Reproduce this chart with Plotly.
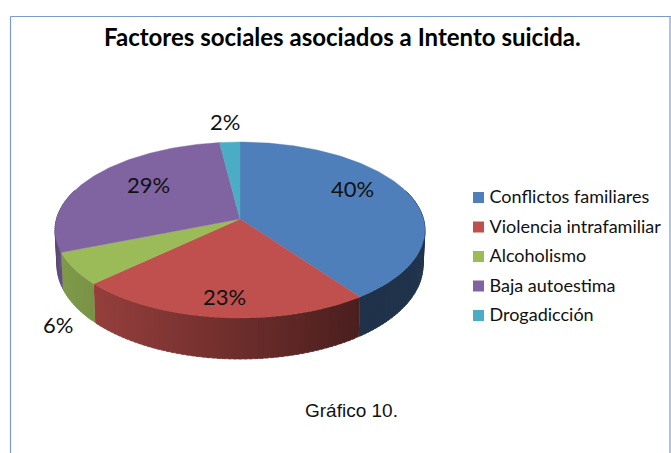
import numpy as np
import plotly.graph_objects as go

# --- data ---
categories = ["Conflictos familiares", "Violencia intrafamiliar", "Alcoholismo", "Baja autoestima", "Drogadicción"]
shares = [40, 23, 6, 29, 2]
title_text = "Factores sociales asociados a Intento suicida."
caption_text = "Gráfico 10."

# --- style ---
colors = ["#4f7fbb", "#bf504d", "#9bbb59", "#8064a2", "#4bacc6"]
label_xy = [(352, 188), (224, 296), (58, 324), (148, 184), (225, 121)]
CX, CY, RX, RY, PERSP = 240.0, 219.0, 183.5, 86.6, 0.125
W, H = 671, 453


def project(deg, r=1.0):
    t = np.radians(deg)
    u, v = r * np.sin(t), -r * np.cos(t)
    w = 1 - PERSP * v
    return CX + RX * u / w, CY + RY * v / w, v


def bottom(deg):
    x, y, v = project(deg)
    return CX + (x - CX) * 0.99, y + 34 + 7 * v


def shade(hex_color, f):
    rgb = [int(hex_color[i:i + 2], 16) for i in (1, 3, 5)]
    return "rgb({},{},{})".format(*[int(round(c * f)) for c in rgb])


fig = go.Figure()
edges = np.concatenate([[0], np.cumsum(shares)]) * 3.6

# side walls
STEP = 1.5
for i, col in enumerate(colors):
    a0, a1 = max(edges[i], 70), min(edges[i + 1], 290)
    if a1 <= a0:
        continue
    n = max(1, int(np.ceil((a1 - a0) / STEP)))
    grid = np.linspace(a0, a1, n + 1)
    for j in range(n):
        a, b = grid[j], min(grid[j + 1] + STEP * 0.6, a1)
        seg = np.linspace(a, b, 4)
        tx, ty, _ = project(seg)
        bx, by = bottom(seg)
        mx = project((a + b) / 2)[0]
        f = np.interp(mx, [55, 62, 94, 358, 430], [0.72, 0.82, 0.78, 0.39, 0.41])
        fig.add_trace(go.Scatter(
            x=np.concatenate([tx, bx[::-1]]), y=np.concatenate([ty, by[::-1]]),
            mode="lines", fill="toself", fillcolor=shade(col, f),
            line=dict(width=0.6, color=shade(col, f)),
            showlegend=False, hoverinfo="skip"))

# top faces
for i, (name, col) in enumerate(zip(categories, colors)):
    seg = np.linspace(edges[i], edges[i + 1], max(3, int(shares[i] * 3.6)))
    x, y, _ = project(seg)
    fig.add_trace(go.Scatter(
        x=np.concatenate([[CX], x, [CX]]), y=np.concatenate([[CY], y, [CY]]),
        mode="lines", fill="toself", fillcolor=col,
        line=dict(width=0.4, color=col),
        name=name, showlegend=False, hoverinfo="name"))

# legend keys and names
LEG_X, LEG_Y0, LEG_DY = 478.5, 197.5, 29.5
leg_y = [LEG_Y0 + LEG_DY * i for i in range(len(categories))]
fig.add_trace(go.Scatter(
    x=[LEG_X] * len(categories), y=leg_y, mode="markers",
    marker=dict(symbol="square", size=11, color=colors),
    showlegend=False, hoverinfo="skip", cliponaxis=False))
fig.add_trace(go.Scatter(
    x=[LEG_X + 11] * len(categories), y=[v + 1 for v in leg_y],
    mode="text", text=categories, textposition="middle right",
    textfont=dict(family="Lato", size=18, color="#111111"),
    showlegend=False, hoverinfo="text", cliponaxis=False))

annotations = [
    dict(x=x, y=y, xref="x", yref="y", text=f"{v}%", showarrow=False,
         font=dict(family="Lato", size=22, color="#111111"))
    for (x, y), v in zip(label_xy, shares)
]
annotations.append(dict(x=342, y=36, xref="x", yref="y", text=f"<b>{title_text}</b>", showarrow=False,
                        font=dict(family="Lato", size=24, color="#000000")))
annotations.append(dict(x=351, y=410.5, xref="x", yref="y", text=caption_text, showarrow=False,
                        font=dict(family="Liberation Sans", size=19, color="#111111")))

frame = dict(type="line", xref="x", yref="y", line=dict(color="#7b9ccb", width=1.2))
shapes = [
    dict(frame, x0=10.5, x1=10.5, y0=16.5, y1=H),
    dict(frame, x0=10.5, x1=W, y0=16.5, y1=16.5),
    dict(frame, x0=670, x1=670, y0=16.5, y1=H),
]

fig.update_layout(
    width=W, height=H, autosize=False,
    margin=dict(l=0, r=0, t=0, b=0),
    paper_bgcolor="white", plot_bgcolor="white",
    xaxis=dict(range=[0, W], visible=False, fixedrange=True),
    yaxis=dict(range=[H, 0], visible=False, fixedrange=True),
    showlegend=False,
    annotations=annotations, shapes=shapes,
)
fig.write_html("out.html", config=dict(displayModeBar=False),
               post_script="document.body.style.margin='0';document.documentElement.style.overflow='hidden';")
